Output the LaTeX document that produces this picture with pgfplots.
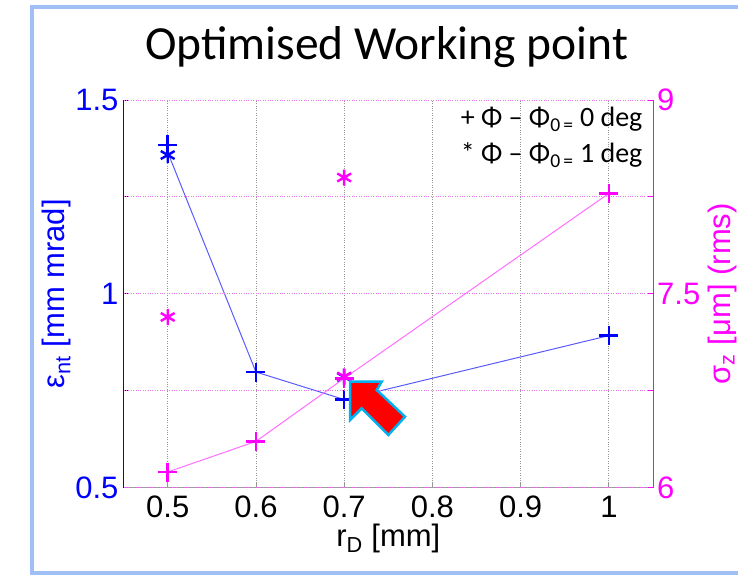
\documentclass[border=0pt]{standalone}
\usepackage{pgfplots}
\pgfplotsset{compat=1.18}
\usepackage{fontspec}
\setmainfont{Liberation Sans}
\newfontfamily\calibri{Carlito}
\definecolor{framecol}{RGB}{160,192,245}
\definecolor{arrowedge}{RGB}{0,176,240}
\definecolor{gridgray}{RGB}{150,150,150}
\definecolor{mag}{RGB}{255,0,255}
\definecolor{magline}{RGB}{255,110,255}
\definecolor{magdot}{RGB}{235,120,235}
\definecolor{bl}{RGB}{0,0,255}
\definecolor{blline}{RGB}{90,90,255}
\begin{document}
\begin{tikzpicture}
\useasboundingbox (-123.6pt,-88.5pt) rectangle (614.4pt,487.5pt);
% slide frame
\draw[framecol, line width=3.5pt] (620pt,480.5pt) -- (-91.6pt,480.5pt) -- (-91.6pt,-85.5pt) -- (620pt,-85.5pt);
% title
\node[font=\calibri\fontsize{47.5}{57}\selectfont, anchor=base] at (263pt,427.5pt) {Optimised Working point};

% left axis (emittance)
\begin{axis}[
  at={(0pt,0pt)}, anchor=south west,
  scale only axis, width=529.4pt, height=387.5pt,
  xmin=0.45, xmax=1.05, ymin=0.5, ymax=1.5,
  axis x line*=bottom, axis y line*=left,
  axis line style={-},
  x axis line style={gridgray, line width=1pt},
  y axis line style={bl, line width=1pt},
  xtick={0.5,0.6,0.7,0.8,0.9,1},
  xticklabels={0.5,0.6,0.7,0.8,0.9,1},
  ytick={0.5,0.75,1,1.25,1.5},
  yticklabels={0.5,,1,,1.5},
  xmajorgrids, major grid style={gridgray, dotted, line width=0.9pt},
  major tick length=5pt,
  tick align=inside,
  x tick style={gridgray, line width=0.8pt},
  y tick style={bl, line width=0.8pt},
  xticklabel style={font=\fontsize{31}{36}\selectfont, black, anchor=base, inner sep=0pt, yshift=-30pt},
  yticklabel style={font=\fontsize{31}{36}\selectfont, bl, anchor=east, inner sep=0pt, xshift=-5pt},
  xlabel={r\textsubscript{D} [mm]},
  xlabel style={font=\fontsize{31}{36}\selectfont, inner sep=0pt, at={(axis description cs:0.5,-0.152)}, anchor=base},
  ylabel={ε\textsubscript{nt} [mm mrad]},
  ylabel style={font=\fontsize{31}{36}\selectfont, bl, at={(axis description cs:-0.126,0.5)}, anchor=center},
  clip=false,
]
\addplot[blline, line width=1pt, forget plot] coordinates {(0.5,1.365) (0.6,0.798) (0.7,0.727) (1.0,0.892)};
\addplot[bl, only marks, mark=+, mark size=9.5pt, line width=2.6pt] coordinates {(0.5,1.384) (0.6,0.798) (0.7,0.727) (1.0,0.892)};
\addplot[bl, only marks, mark=asterisk, mark size=8pt, line width=2.4pt] coordinates {(0.5,1.358) (0.7,0.785)};
\end{axis}

% right axis (bunch length)
\begin{axis}[
  at={(0pt,0pt)}, anchor=south west,
  scale only axis, width=529.4pt, height=387.5pt,
  xmin=0.45, xmax=1.05, ymin=6, ymax=9,
  axis x line=none, axis y line*=right,
  axis line style={-},
  y axis line style={mag, line width=1pt},
  ytick={6,6.75,7.5,8.25,9},
  yticklabels={6,,7.5,,9},
  ymajorgrids, major grid style={magdot, dotted, line width=0.9pt},
  major tick length=5pt,
  tick align=inside,
  y tick style={mag, line width=0.8pt},
  yticklabel style={font=\fontsize{31}{36}\selectfont, mag, anchor=west, inner sep=0pt, xshift=4pt},
  ylabel={σ\textsubscript{z} [μm] (rms)},
  ylabel style={font=\fontsize{31}{36}\selectfont, mag, at={(axis description cs:1.132,0.5)}, anchor=center},
  clip=false,
]
\addplot[magline, line width=1pt, forget plot] coordinates {(0.5,6.12) (0.6,6.357) (0.7,6.845) (1.0,8.277)};
\addplot[mag, only marks, mark=+, mark size=9.5pt, line width=2.6pt] coordinates {(0.5,6.12) (0.6,6.357) (0.7,6.845) (1.0,8.277)};
\addplot[mag, only marks, mark=asterisk, mark size=8pt, line width=2.4pt] coordinates {(0.5,7.32) (0.7,8.40) (0.7,6.86)};
\end{axis}

% legend text
\node[font=\calibri\fontsize{28}{33}\selectfont, anchor=base east, inner sep=0pt] at (519pt,360.5pt) {+ Φ – Φ\textsubscript{0\,=} 0 deg};
\node[font=\calibri\fontsize{28}{33}\selectfont, anchor=base east, inner sep=0pt] at (519pt,324.5pt) {* Φ – Φ\textsubscript{0\,=} 1 deg};

% red block arrow annotation
\filldraw[fill=red, draw=arrowedge, line width=2.5pt, line join=miter]
  (226.4pt,105.8pt) -- (258.1pt,105.8pt) -- (253.1pt,97.5pt) -- (281.4pt,70.8pt)
  -- (264.7pt,52.5pt) -- (238.1pt,79.2pt) -- (226.4pt,67.5pt) -- cycle;
\end{tikzpicture}
\end{document}
